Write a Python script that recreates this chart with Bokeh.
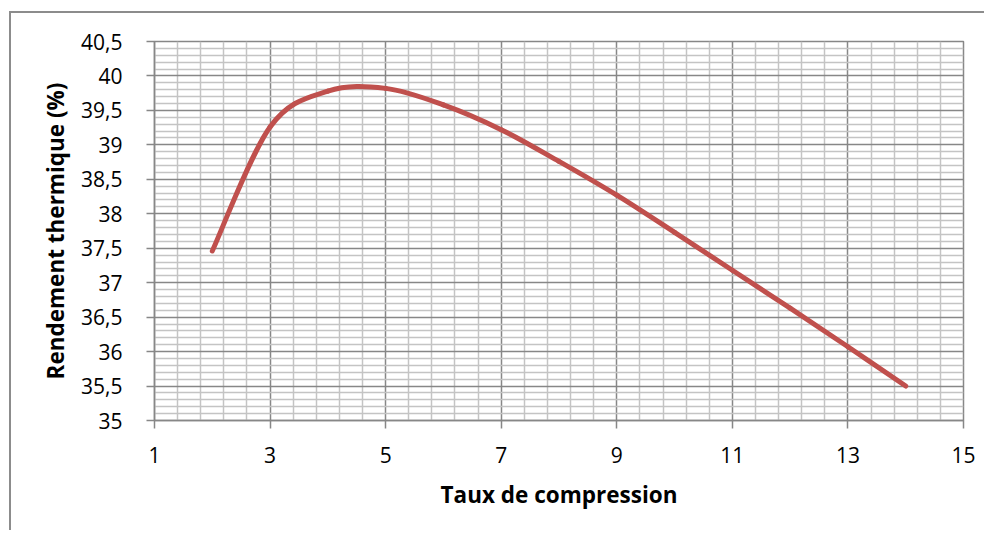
from bokeh.plotting import figure
from bokeh.models import ColumnDataSource, FixedTicker, CustomJSTickFormatter
from bokeh.embed import file_html
from bokeh.resources import INLINE

# ---- data ----
taux = [2, 3, 4, 5, 6, 7, 8, 9, 10, 11, 12, 13, 14]
rendement = [37.46, 39.26, 39.78, 39.82, 39.58, 39.22, 38.76, 38.27, 37.73, 37.18, 36.63, 36.07, 35.50]

x_ticks = [1, 3, 5, 7, 9, 11, 13, 15]
y_ticks = [35, 35.5, 36, 36.5, 37, 37.5, 38, 38.5, 39, 39.5, 40, 40.5]
x_minor = [round(1 + 0.4 * i, 1) for i in range(36) if i % 5 != 0]
y_minor = [round(35 + 0.1 * i, 1) for i in range(56) if i % 5 != 0]

x_title = "Taux de compression"
y_title = "Rendement thermique (%)"

# ---- smoothed curve (Excel-like Bezier smoothing through the data points) ----
n = len(taux)
x0, y0, x1, y1, cx0, cy0, cx1, cy1 = [], [], [], [], [], [], [], []
for i in range(n - 1):
    pm = i - 1 if i > 0 else i
    pp = i + 2 if i + 2 < n else i + 1
    x0.append(taux[i]); y0.append(rendement[i])
    x1.append(taux[i + 1]); y1.append(rendement[i + 1])
    cx0.append(taux[i] + (taux[i + 1] - taux[pm]) / 6.0)
    cy0.append(rendement[i] + (rendement[i + 1] - rendement[pm]) / 6.0)
    cx1.append(taux[i + 1] - (taux[pp] - taux[i]) / 6.0)
    cy1.append(rendement[i + 1] - (rendement[pp] - rendement[i]) / 6.0)
src = ColumnDataSource(dict(x0=x0, y0=y0, x1=x1, y1=y1, cx0=cx0, cy0=cy0, cx1=cx1, cy1=cy1))

FONT = "Open Sans"
MAJ = "#878787"
MIN = "#c4c4c4"

p = figure(width=984, height=530, output_backend="svg", toolbar_location=None,
           x_range=(1, 15), y_range=(35, 40.5),
           min_border_left=154, min_border_right=21, min_border_top=41, min_border_bottom=110)
p.background_fill_color = "white"
p.border_fill_color = None
p.outline_line_color = MAJ
p.outline_line_width = 1.5
# outer chart border (left and top edges visible in the window)
p.styles = {"box-shadow": "inset 9px 11px 0 0 white, inset 11px 13px 0 0 #8c8c8c",
            "background-color": "white"}

for ax, ticks, minor in ((p.xaxis[0], x_ticks, x_minor), (p.yaxis[0], y_ticks, y_minor)):
    ax.ticker = FixedTicker(ticks=ticks, minor_ticks=minor)
    ax.axis_line_color = MAJ
    ax.axis_line_width = 1.5
    ax.major_tick_line_color = MAJ
    ax.major_tick_line_width = 1.5
    ax.major_tick_out = 8
    ax.major_tick_in = 0
    ax.minor_tick_out = 0
    ax.minor_tick_in = 0
    ax.major_label_text_font = FONT
    ax.major_label_text_font_size = "21px"
    ax.major_label_text_color = "black"
    ax.axis_label_text_font = FONT
    ax.axis_label_text_font_size = "22.5px"
    ax.axis_label_text_font_style = "bold"
    ax.axis_label_text_color = "black"
    ax.formatter = CustomJSTickFormatter(code="return (Math.round(tick*10)/10).toString().replace('.', ',');")

p.xaxis.axis_label = x_title
p.yaxis.axis_label = y_title
p.xaxis.major_label_standoff = 18
p.yaxis.major_label_standoff = 24
p.xaxis.axis_label_standoff = 13
p.yaxis.axis_label_standoff = 7

for g, ticks, minor in ((p.xgrid[0], x_ticks, x_minor), (p.ygrid[0], y_ticks, y_minor)):
    g.ticker = FixedTicker(ticks=ticks, minor_ticks=minor)
    g.grid_line_color = MAJ
    g.grid_line_width = 1.5
    g.minor_grid_line_color = MIN
    g.minor_grid_line_width = 1.5

p.bezier(x0="x0", y0="y0", x1="x1", y1="y1", cx0="cx0", cy0="cy0", cx1="cx1", cy1="cy1",
         source=src, line_color="#c0504d", line_width=5, line_cap="round")

open("out.html", "w").write(file_html(p, INLINE))
